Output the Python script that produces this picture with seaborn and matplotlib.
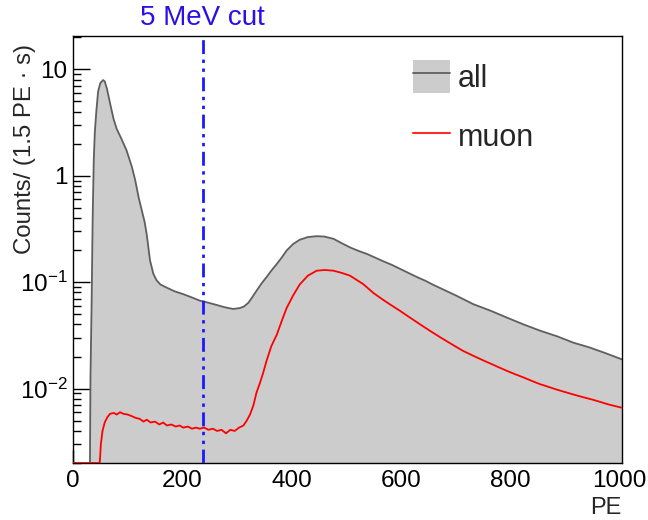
import matplotlib
matplotlib.use("Agg")
import matplotlib.pyplot as plt
import numpy as np
import pandas as pd
import seaborn as sns
from matplotlib.ticker import FixedLocator, FuncFormatter, MultipleLocator, NullFormatter
from matplotlib.patches import Patch
from matplotlib.lines import Line2D

# ---------------- data ----------------
all_pe = [31, 32, 34, 36, 38, 40, 43, 46, 50, 55, 58, 62, 68, 74, 80, 89, 98, 108, 114,
          120, 126, 131, 135, 141, 147, 153, 160, 171, 186, 202, 217, 232, 248, 263, 278,
          293, 305, 313, 321, 328, 336, 345, 354, 363, 373, 382, 391, 403, 415, 430, 446,
          460, 477, 492, 507, 522, 538, 553, 568, 584, 599, 614, 629, 645, 660, 672, 702,
          733, 764, 794, 825, 855, 886, 916, 946, 975, 1005]
all_val = [0.0019, 0.013, 0.06, 0.4, 1.4, 2.6, 4.2, 6.2, 7.4, 7.9, 7.7, 6.6, 4.75, 3.45,
           2.75, 2.2, 1.73, 1.2, 0.9, 0.63, 0.47, 0.37, 0.28, 0.16, 0.12, 0.104, 0.095,
           0.089, 0.082, 0.077, 0.072, 0.067, 0.064, 0.061, 0.058, 0.056, 0.057, 0.059,
           0.064, 0.072, 0.083, 0.097, 0.111, 0.128, 0.148, 0.170, 0.198, 0.228, 0.25,
           0.265, 0.27, 0.268, 0.255, 0.232, 0.212, 0.197, 0.184, 0.170, 0.157, 0.145,
           0.133, 0.122, 0.112, 0.103, 0.094, 0.088, 0.0745, 0.062, 0.054, 0.0465, 0.040,
           0.035, 0.031, 0.027, 0.0243, 0.0215, 0.0188]

muon_pe = [0, 49, 51, 54, 58, 63, 68, 75, 80, 86, 92, 100, 108, 115, 122, 129, 135, 142,
           150, 158, 165, 172, 180, 188, 195, 202, 210, 218, 225, 232, 240, 248, 256, 264,
           272, 280, 288, 296, 304, 312, 318, 324, 330, 336, 342, 348, 354, 363, 373, 382,
           391, 403, 415, 430, 446, 461, 477, 492, 507, 531, 550, 568, 583, 598, 614, 629,
           641, 653, 672, 684, 700, 714, 733, 750, 764, 780, 794, 810, 825, 840, 855, 870,
           885, 897, 916, 930, 950, 965, 980, 1000, 1005]
muon_val = [0.002, 0.002, 0.0030, 0.0040, 0.0048, 0.0054, 0.0058, 0.0059, 0.0057, 0.0060,
            0.0058, 0.0057, 0.0055, 0.0053, 0.0052, 0.0049, 0.0051, 0.0048, 0.0049, 0.0046,
            0.0048, 0.0045, 0.0046, 0.0044, 0.0045, 0.0043, 0.0044, 0.0042, 0.0043, 0.0042,
            0.0043, 0.0041, 0.0042, 0.0040, 0.0041, 0.0038, 0.0041, 0.0040, 0.0043, 0.0045,
            0.0050, 0.0057, 0.0069, 0.0092, 0.0112, 0.0140, 0.018, 0.025, 0.032, 0.043,
            0.057, 0.075, 0.095, 0.115, 0.128, 0.130, 0.128, 0.122, 0.115, 0.096, 0.079,
            0.068, 0.0605, 0.054, 0.0475, 0.0422, 0.0384, 0.035, 0.0304, 0.0279, 0.0249,
            0.0226, 0.0203, 0.0185, 0.0172, 0.0158, 0.0147, 0.0136, 0.0127, 0.0118, 0.0110,
            0.0104, 0.0098, 0.0094, 0.0088, 0.0084, 0.0079, 0.0075, 0.0071, 0.0067, 0.0066]

cut_pe = 238
y_ticks = [0.01, 0.1, 1, 10]
x_ticks = [0, 200, 400, 600, 800, 1000]

# ---------------- style ----------------
sns.set_theme(style="white")
plt.rcParams["font.family"] = ["Liberation Sans", "DejaVu Sans"]
plt.rcParams["mathtext.fontset"] = "custom"
plt.rcParams["mathtext.rm"] = "Liberation Sans"
plt.rcParams["mathtext.it"] = "Liberation Sans:italic"
plt.rcParams["mathtext.bf"] = "Liberation Sans:bold"

df_all = pd.DataFrame({"PE": all_pe, "val": all_val})
df_mu = pd.DataFrame({"PE": muon_pe, "val": muon_val})

fig = plt.figure(figsize=(6.48, 5.2), dpi=100)
fig.patch.set_facecolor("white")
ax = fig.add_axes([73 / 648, 1 - 463 / 520, 549 / 648, 427 / 520])
ax.set_facecolor("white")

fill_col = "#cccccc"
edge_col = "#5f5f5f"
ax.fill_between(df_all["PE"], df_all["val"], 1e-5, color=fill_col, lw=0, zorder=1)
sns.lineplot(data=df_all, x="PE", y="val", ax=ax, color=edge_col, lw=1.3,
             estimator=None, sort=False, zorder=2)
sns.lineplot(data=df_mu, x="PE", y="val", ax=ax, color="#ff0000", lw=1.3,
             estimator=None, sort=False, zorder=3)

ax.set_yscale("log")
ax.set_xlim(0, 1005)
ax.set_ylim(0.002, 20.5)

ax.axvline(cut_pe, color="#1a1aff", lw=2.0, linestyle=(0, (5, 2, 1.2, 2, 1.2, 2)), zorder=4)

# ticks
ax.xaxis.set_major_locator(FixedLocator(x_ticks))
ax.xaxis.set_minor_locator(MultipleLocator(50))
ax.yaxis.set_major_locator(FixedLocator(y_ticks))
minor_y = [m * 10.0 ** e for e in range(-3, 2) for m in range(2, 10)]
ax.yaxis.set_minor_locator(FixedLocator(minor_y))
ax.yaxis.set_minor_formatter(NullFormatter())


def yfmt(v, pos):
    if v >= 1:
        return f"{int(round(v))}"
    e = int(round(np.log10(v)))
    return r"$10^{%d}$" % e


ax.yaxis.set_major_formatter(FuncFormatter(yfmt))
ax.tick_params(axis="x", which="major", direction="in", length=9.2, width=1, labelsize=17.5,
               pad=5, top=False, bottom=True, color="black", labelcolor="black")
ax.tick_params(axis="x", which="minor", direction="in", length=4.4, width=1, top=False,
               bottom=True, color="black")
ax.tick_params(axis="y", which="major", direction="in", length=12, width=1, labelsize=17.5,
               pad=4, right=False, left=True, color="black", labelcolor="black")
ax.tick_params(axis="y", which="minor", direction="in", length=6, width=1, right=False,
               left=True, color="black")
for s in ax.spines.values():
    s.set_color("black")
    s.set_linewidth(1.0)
    s.set_visible(True)

ax.set_xlabel("")
ax.set_ylabel("")
fig.text(621 / 648, 1 - 508 / 520, "PE", ha="right", va="center", fontsize=17)
fig.text(25 / 648, 1 - 44 / 520, "Counts/ (1.5 PE \u00b7 s)", rotation=90, ha="center",
         va="top", fontsize=17.3)
fig.text(202 / 648, 1 - 18 / 520, "5 MeV cut", ha="center", va="center", fontsize=20,
         color="#2a10e8")

# legend
h_all = (Patch(facecolor=fill_col, edgecolor="none"), Line2D([], [], color=edge_col, lw=1.3))
h_mu = Line2D([], [], color="#ff2a2a", lw=1.5)
leg = fig.legend([h_all, h_mu], ["all", "muon"], loc="upper left",
                 bbox_to_anchor=(413 / 648, 1 - 60 / 520), frameon=False, fontsize=22,
                 handlelength=1.2, handleheight=1.27, labelspacing=0.85, handletextpad=0.27,
                 borderpad=0, borderaxespad=0)

fig.savefig("out.png", dpi=100, facecolor="white")
